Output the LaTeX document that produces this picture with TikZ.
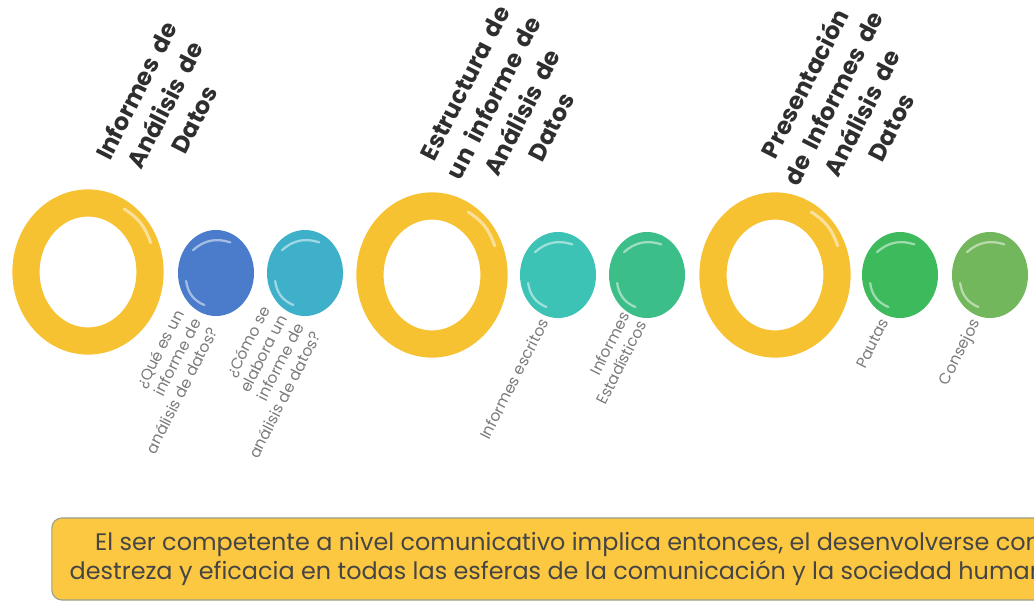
\documentclass[tikz,border=0pt]{standalone}
\usepackage{fontspec}
\setmainfont{Poppins}
\usetikzlibrary{shapes.geometric,positioning,calc}
\definecolor{ringgold}{HTML}{F6C232}
\definecolor{notegold}{HTML}{FDC841}
\definecolor{noteedge}{HTML}{9AA08A}
\definecolor{titlegray}{HTML}{2E2E2E}
\definecolor{labelgray}{HTML}{7A7A7A}
\definecolor{textgray}{HTML}{454545}
\definecolor{beadA}{HTML}{4A7CCB}
\definecolor{beadB}{HTML}{3FB0C9}
\definecolor{beadC}{HTML}{3CC3B5}
\definecolor{beadD}{HTML}{3BBE88}
\definecolor{beadE}{HTML}{3DBA5C}
\definecolor{beadF}{HTML}{72B75C}
\newcommand{\headfont}{\bfseries\fontsize{17}{23}\selectfont\spaceskip=0.38em\relax}

\begin{document}
\begin{tikzpicture}[
    x=0.025cm, y=-0.025cm,
    % --- STYLES ---
    ring/.style={
        ellipse, draw=ringgold, line width=0.68cm,
        minimum width=3.1cm, minimum height=3.45cm,
        inner sep=0pt
    },
    bead/.style={
        ellipse, minimum width=1.9cm,
        minimum height=2.15cm, inner sep=0pt
    },
    gloss/.style={white, opacity=0.5, line width=1.6pt, line cap=round},
    heading/.style={
        rotate=63, align=center, text=titlegray,
        font=\headfont
    },
    sublabel/.style={
        rotate=63, anchor=north east, align=right,
        text=labelgray, inner sep=1pt,
        font=\fontsize{11}{13.5}\selectfont
    },
    notebox/.style={
        rectangle, rounded corners=0.25cm,
        draw=noteedge, fill=notegold, line width=0.8pt,
        minimum width=25.8cm, minimum height=2.05cm,
        align=center, text=textgray,
        font=\fontsize{17}{20}\selectfont
    }
]
\useasboundingbox (0,0) rectangle (1034,606);
\clip (0,0) rectangle (1034,606);

% ===== 1. RINGS =====
\node[ring] (r1) at (88,272) {};
\node[ring] (r2) at (432,275) {};
\node[ring] (r3) at (775,275) {};

% ===== 2. BEADS =====
\node[bead, fill=beadA] (b1) at (216,273) {};
\node[bead, fill=beadB] (b2) at (305,273) {};
\node[bead, fill=beadC] (b3) at (558,275) {};
\node[bead, fill=beadD] (b4) at (647,275) {};
\node[bead, fill=beadE] (b5) at (900,275) {};
\node[bead, fill=beadF] (b6) at (990,275) {};

% glossy highlights
\foreach \b in {b1,b2,b3,b4,b5,b6} {
    \draw[gloss] ($(\b.center)!0.8!(\b.135)$) to[bend left=30] ($(\b.center)!0.8!(\b.65)$);
    \draw[gloss] ($(\b.center)!0.8!(\b.250)$) to[bend left=30] ($(\b.center)!0.8!(\b.195)$);
}
\foreach \r in {r1,r2,r3} {
    \draw[gloss, line width=2.2pt] ($(\r.center)!0.9!(\r.60)$) to[bend left=20] ($(\r.center)!0.9!(\r.25)$);
}

% ===== 3. HEADINGS =====
\node[heading] (h1) at (165,105) {Informes de\\ Análisis de\\ Datos};
\node[heading] (h2) at (508,105) {Estructura de\\ un informe de\\ Análisis de\\ Datos};
\node[heading] (h3) at (847,105) {Presentación\\ de Informes de\\ Análisis de\\ Datos};

% ===== 4. LABELS =====
\node[sublabel] (l1) at (173,306) {¿Qué es un\\ informe de\\ análisis de datos?};
\node[sublabel] (l2) at (259,302) {¿Cómo se\\ elabora un\\ informe de\\ análisis de datos?};
\node[sublabel] (l3) at (538,315) {Informes escritos};
\node[sublabel] (l4) at (619,308) {Informes\\ Estadísticos};
\node[sublabel] (l5) at (879,315) {Pautas};
\node[sublabel] (l6) at (969,315) {Consejos};

% ===== 5. NOTE =====
\node[notebox] (note) at (568,559) {El ser competente a nivel comunicativo implica entonces, el desenvolverse con\\ destreza y eficacia en todas las esferas de la comunicación y la sociedad humana.};

\end{tikzpicture}
\end{document}
